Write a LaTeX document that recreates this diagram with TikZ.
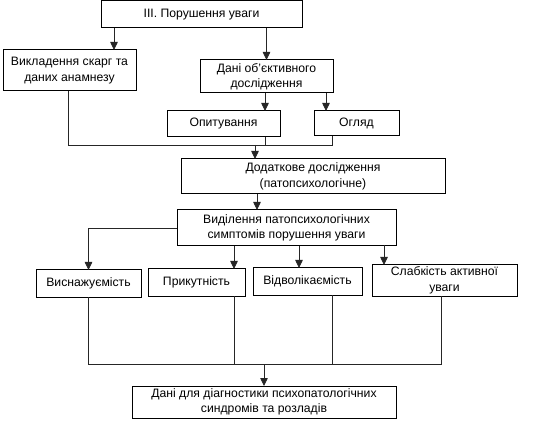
\documentclass[tikz,border=0pt]{standalone}
\usepackage{fontspec}
\setmainfont{Liberation Sans}
\usetikzlibrary{arrows.meta,calc}
\begin{document}
\begin{tikzpicture}[x=1pt,y=-1pt,
  box/.style={draw=black,line width=1pt,inner sep=0pt,outer sep=0pt,align=center,
    font=\fontsize{12.2}{15.5}\selectfont},
  ln/.style={draw=black!85,line width=0.8pt},
  arr/.style={ln,-{Triangle[length=8pt,width=7.5pt]}}]
\useasboundingbox (0,0) rectangle (540,427);
\fill[white] (0,0) rectangle (540,427);
\node[box,minimum width=201pt,minimum height=27pt] (title) at (201.5,14.5) {ІІІ. Порушення уваги};
\node[box,minimum width=133pt,minimum height=41pt] (vyk) at (69.5,70.5) {Викладення скарг та\\даних анамнезу};
\node[box,minimum width=133pt,minimum height=33pt] (dani) at (266.5,76.5) {Дані об'єктивного\\дослідження};
\node[box,minimum width=113pt,minimum height=26pt] (opyt) at (223.5,124) {Опитування};
\node[box,minimum width=85pt,minimum height=25pt] (ogl) at (356.5,123.5) {Огляд};
\node[box,minimum width=264pt,minimum height=35pt] (dod) at (313,176.5) {Додаткове дослідження\\(патопсихологічне)};
\node[box,minimum width=219pt,minimum height=36pt] (vyd) at (286.5,228) {Виділення патопсихологічних\\симптомів порушення уваги};
\node[box,minimum width=105pt,minimum height=27pt] (vys) at (88.5,283.5) {\raisebox{3pt}{Виснажуємість}};
\node[box,minimum width=97pt,minimum height=27pt] (pryk) at (196.5,282.5) {Прикутність};
\node[box,minimum width=109pt,minimum height=27pt] (vidv) at (307.5,281.5) {\raisebox{3pt}{Відволікаємість}};
\node[box,minimum width=145pt,minimum height=31pt] (slab) at (444.5,280.5) {Слабкість активної\\уваги};
\node[box,minimum width=264pt,minimum height=32pt] (fin) at (264,402) {Дані для діагностики психопатологічних\\синдромів та розладів};
\coordinate (j1) at (255,145);
\coordinate (j2) at (264,364);
% top level
\draw[arr] ([xshift=13pt]title.south west) -- ([xshift=13pt]title.south west |- vyk.north);
\draw[arr] (title.south -| dani.north) -- (dani.north);
\draw[arr] ([xshift=-1.5pt]dani.south) -- ([xshift=-1.5pt]dani.south |- opyt.north);
\draw[arr] ([xshift=-7pt]dani.south east) -- ([xshift=-7pt]dani.south east |- ogl.north);
% join to additional
\draw[ln] ([xshift=-1.5pt]vyk.south) -- ([xshift=-1.5pt]vyk.south |- j1) -- ([xshift=18pt]ogl.south west |- j1) -- ([xshift=18pt]ogl.south west);
\draw[ln] ([xshift=-15pt]opyt.south east) -- ([xshift=-15pt]opyt.south east |- j1);
\draw[arr] (j1) -- (j1 |- dod.north);
\draw[arr] ([xshift=76pt]dod.south west) -- ([xshift=76pt]dod.south west |- vyd.north);
% symptoms
\draw[arr] (vyd.west) -- (vyd.west -| vys.north) -- (vys.north);
\draw[arr] ([xshift=57pt]vyd.south west) -- ([xshift=57pt]vyd.south west |- pryk.north);
\draw[arr] ([xshift=122pt]vyd.south west) -- ([xshift=122pt]vyd.south west |- vidv.north);
\draw[arr] ([xshift=207pt,yshift=1pt]vyd.south west) -- ([xshift=207pt]vyd.south west |- slab.north);
% join to final
\draw[ln] (vys.south) -- (vys.south |- j2) -- ([xshift=-3.5pt]slab.south |- j2) -- ([xshift=-3.5pt]slab.south);
\draw[ln] ([xshift=-11pt]pryk.south east) -- ([xshift=-11pt]pryk.south east |- j2);
\draw[ln] ([xshift=-30pt]vidv.south east) -- ([xshift=-30pt]vidv.south east |- j2);
\draw[arr] (j2) -- (j2 |- fin.north);
\end{tikzpicture}
\end{document}
